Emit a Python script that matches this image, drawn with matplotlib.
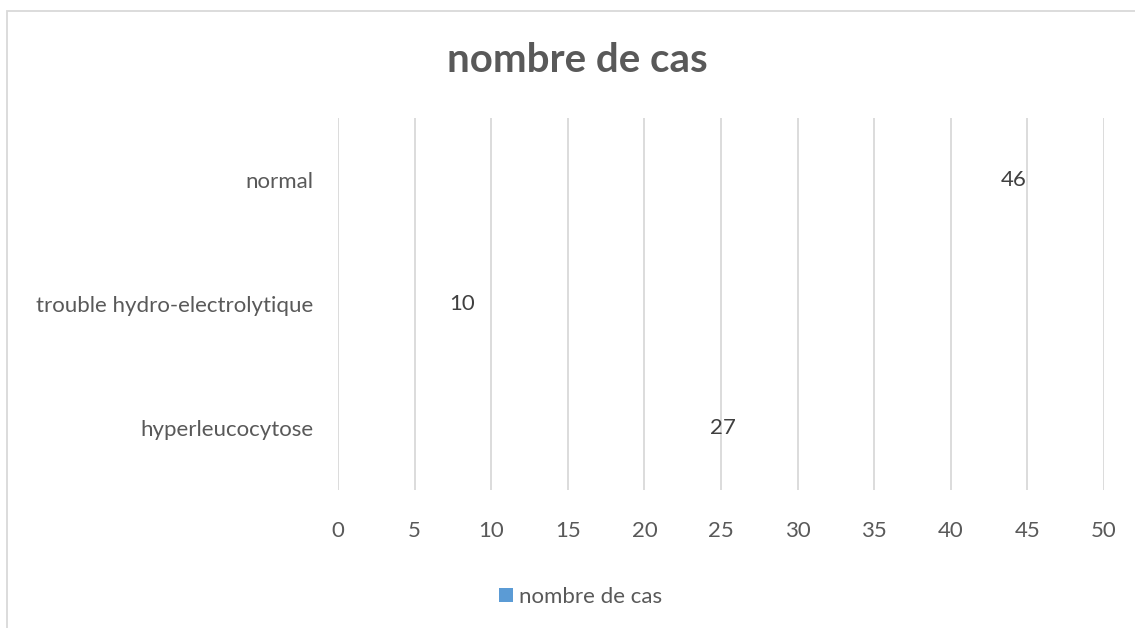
import matplotlib
matplotlib.use("Agg")
import matplotlib.pyplot as plt
from matplotlib.patches import Patch, Rectangle

categories = ["hyperleucocytose", "trouble hydro-electrolytique", "normal"]
values = [27, 10, 46]
series_name = "nombre de cas"
title = "nombre de cas"
xticks = [0, 5, 10, 15, 20, 25, 30, 35, 40, 45, 50]

plt.rcParams['font.family'] = ['Lato', 'DejaVu Sans']

fig = plt.figure(figsize=(11.35, 6.28), dpi=100)
fig.patch.set_facecolor('white')
ax = fig.add_axes([338/1135, 1-490/628, (1104-338)/1135, (490-118)/628])

ypos = list(range(len(categories)))
ax.barh(ypos, values, height=0.6, color='none', edgecolor='none')

for y, v in zip(ypos, values):
    ax.annotate(str(v), xy=(v, y), xytext=(-11.5, 0), textcoords='offset points',
                ha='right', va='center', fontsize=16, color='#404040')

ax.set_xlim(0, 50)
ax.set_ylim(-0.5, 2.5)
ax.set_xticks(xticks)
ax.set_xticklabels([str(t) for t in xticks])
ax.set_yticks(ypos)
ax.set_yticklabels(categories)
ax.tick_params(axis='x', length=0, pad=22, labelsize=16, labelcolor='#595959')
ax.tick_params(axis='y', length=0, pad=18, labelsize=16, labelcolor='#595959')
ax.grid(axis='x', color='#d9d9d9', linewidth=1.3)
ax.set_axisbelow(True)
for s in ax.spines.values():
    s.set_visible(False)

fig.text(577/1135, 1-60/628, title, ha='center', va='center', fontsize=29,
         fontweight='bold', color='#595959')

handle = Patch(facecolor='#5B9BD5', edgecolor='none', label=series_name)
fig.legend(handles=[handle], loc='center', bbox_to_anchor=(581/1135, 1-597/628),
           frameon=False, fontsize=16, labelcolor='#595959', handlelength=0.6,
           handleheight=0.6, handletextpad=0.3)

fig.patches.append(Rectangle((7/1135, -0.05), 1.1, 1-11/628+0.05, transform=fig.transFigure,
                             fill=False, edgecolor='#d9d9d9', linewidth=1.3))

fig.savefig("out.png", dpi=100)
